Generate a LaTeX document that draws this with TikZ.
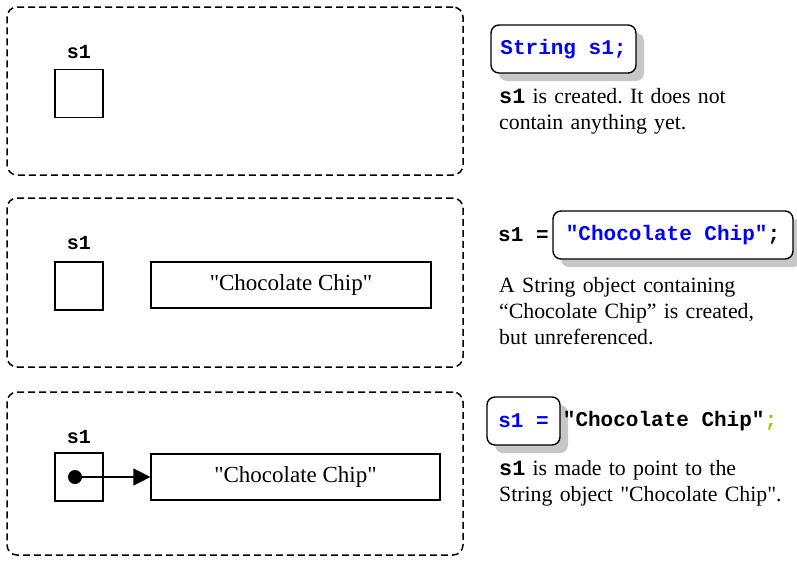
\documentclass[tikz,border=0pt]{standalone}
\usepackage{fontspec}
\setmainfont{Liberation Serif}
\setmonofont{Liberation Mono}
\usetikzlibrary{arrows.meta,positioning,shadows}
\definecolor{codeblue}{RGB}{0,0,255}
\definecolor{codegreen}{RGB}{153,204,0}
\frenchspacing

\begin{document}
\begin{tikzpicture}[x=1pt, y=-1pt,
    panel/.style={draw, dash pattern=on 7pt off 4pt, line width=1.5pt, rounded corners=10pt, minimum width=456pt},
    cell/.style={draw, line width=1.2pt, minimum size=48pt, inner sep=0pt},
    strbox/.style={draw, line width=1.2pt, minimum height=46pt, inner sep=0pt, font=\fontsize{23}{26}\selectfont},
    varname/.style={font=\fontsize{20}{22}\selectfont\ttfamily\bfseries, inner sep=0pt},
    codebox/.style={draw, fill=white, line width=1.4pt, rounded corners=8pt, minimum height=48pt, inner sep=0pt,
        drop shadow={shadow xshift=8pt, shadow yshift=-8pt, fill=black!22, opacity=1}},
    code/.style={font=\fontsize{21}{24}\selectfont\ttfamily\bfseries},
    note/.style={anchor=base west, inner sep=0pt, text width=300pt, align=left, font=\fontsize{21.8}{26}\selectfont}]
      \useasboundingbox (0,0) rectangle (797,560);

      \node (panelA) [panel, minimum height=168pt] at (235,91) {};
      \node (panelB) [panel, minimum height=169pt] at (235,282.5) {};
      \node (panelC) [panel, minimum height=163pt] at (235,473.5) {};

      \node (cellA) [cell] at (79,93.5) {};
      \node (nameA) [varname] at (79,52) {s1};

      \node (cellB) [cell] at (79,286) {};
      \node (nameB) [varname] at (79,243) {s1};
      \node (strB) [strbox, minimum width=280pt] at (291,285) {\textquotedbl Chocolate Chip\textquotedbl};

      \node (cellC) [cell] at (79,477) {};
      \node (nameC) [varname] at (79,437) {s1};
      \node (strC) [strbox, minimum width=289pt] at (295.5,477) {\textquotedbl Chocolate Chip\textquotedbl};
      \node (dotC) [circle, fill, inner sep=0pt, minimum size=14pt] at (75,477) {};
      \draw[-{Triangle[length=17pt, width=17pt]}, line width=1.2pt] (dotC.center) -- (strC.west);

      \node (codeA) [codebox, code, minimum width=145pt] at (563.5,49) {\color{codeblue}String s1;};
      \node (noteA) [note] at (499,103) {\texttt{\textbf{s1}} is created. It does not\\contain anything yet.};

      \node (assignB) [code, anchor=west, inner sep=0pt] at (498,235) {s1 =};
      \node (codeB) [codebox, code, minimum width=240pt] at (673,235) {{\color{codeblue}"Chocolate Chip"};};
      \node (noteB) [note] at (499,292) {A String object containing\\“Chocolate Chip” is created,\\but unreferenced.};

      \node (codeC) [codebox, code, minimum width=73pt] at (523.5,421) {\color{codeblue}s1 =};
      \node (restC) [code, right=2pt of codeC, inner sep=0pt] {"Chocolate Chip"{\color{codegreen};}};
      \node (noteC) [note] at (499,475) {\texttt{\textbf{s1}} is made to point to the\\String object \textquotedbl Chocolate Chip\textquotedbl.};
\end{tikzpicture}
\end{document}
